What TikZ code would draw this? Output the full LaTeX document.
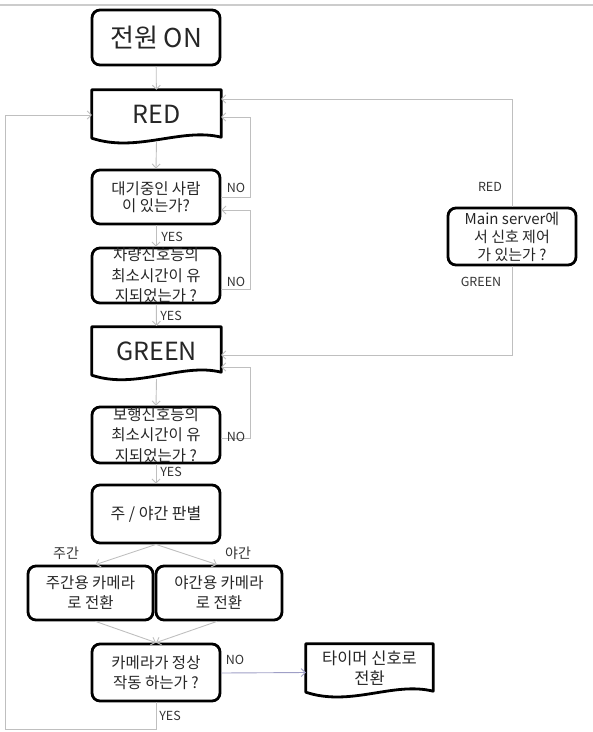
\documentclass[tikz,border=0pt]{standalone}
\usepackage{fontspec}
\setmainfont{Noto Sans CJK KR}
\usetikzlibrary{arrows.meta}
\begin{document}
\begin{tikzpicture}[x=1pt,y=-1pt,
  box/.style={draw=black, line width=2.8pt, rounded corners=8pt, fill=white, align=center, inner sep=0pt, text=black!85},
  docnode/.style={draw=none, align=center, inner sep=0pt, text=black!85},
  docline/.style={draw=black, line width=2.8pt, line join=round},
  conn/.style={draw=gray!50, line width=0.9pt},
  arr/.style={conn, -{Straight Barb[length=4pt,width=8pt,line width=0.9pt]}},
  lbl/.style={font=\fontsize{12.5}{14}\selectfont, text=black!80, inner sep=0pt},
  txt/.style={font=\fontsize{15}{19}\selectfont},
  big/.style={font=\fontsize{25}{28}\selectfont}
]
\useasboundingbox (0,0) rectangle (593,732);
\draw[gray!40, line width=1.2pt] (0,5) -- (593,5);

% nodes
\node[box, big, font=\fontsize{26}{28}\selectfont, minimum width=128pt, minimum height=55pt] (on) at (156,37.5) {전원 ON};
\node[docnode, big, minimum width=129pt, minimum height=48pt] (red) at (156.5,114) {RED};
\node[box, txt, font=\fontsize{15.5}{17}\selectfont, minimum width=128pt, minimum height=54pt] (wait) at (156,197) {대기중인 사람\\이 있는가?};
\node[box, txt, font=\fontsize{15.5}{20.5}\selectfont, minimum width=128pt, minimum height=55pt] (car) at (156,275.5) {차량신호등의\\최소시간이 유\\지되었는가 ?};
\node[docnode, big, minimum width=129pt, minimum height=48pt] (green) at (156.5,351) {GREEN};
\node[box, txt, font=\fontsize{15.5}{20.5}\selectfont, minimum width=128pt, minimum height=56pt] (walk) at (156,435) {보행신호등의\\최소시간이 유\\지되었는가 ?};
\node[box, font=\fontsize{16}{19}\selectfont, minimum width=128pt, minimum height=58pt] (daynight) at (156,514) {주 / 야간 판별};
\node[box, txt, font=\fontsize{15.5}{20}\selectfont, minimum width=125pt, minimum height=54pt] (daycam) at (90.5,593) {주간용 카메라\\로 전환};
\node[box, txt, font=\fontsize{15.5}{20}\selectfont, minimum width=126pt, minimum height=54pt] (nightcam) at (219,593) {야간용 카메라\\로 전환};
\node[box, txt, font=\fontsize{15.5}{20}\selectfont, minimum width=128pt, minimum height=57pt] (cam) at (156,672.5) {카메라가 정상\\작동 하는가 ?};
\node[docnode, font=\fontsize{16.5}{20}\selectfont, minimum width=127pt, minimum height=48pt] (timer) at (369.5,668) {타이머 신호로\\전환};
\node[box, font=\fontsize{15}{18}\selectfont, minimum width=128pt, minimum height=57pt] (server) at (512,236.5) {Main server에\\서 신호 제어\\가 있는가 ?};

% document outlines
\draw[docline] (red.north west) -- (red.north east) -- ([yshift=1pt]red.south east)
  .. controls +(-40,-10) and +(45,15) .. (red.south west) -- cycle;
\draw[docline] (green.north west) -- (green.north east) -- ([yshift=3pt]green.south east)
  .. controls +(-40,-10) and +(45,15) .. (green.south west) -- cycle;
\draw[docline] (timer.north west) -- (timer.north east) -- ([yshift=1pt]timer.south east)
  .. controls +(-40,-10) and +(45,15) .. (timer.south west) -- cycle;

% helper coordinates
\coordinate (xr) at (250,0);
\coordinate (bl) at (5,729);

% main flow
\draw[arr] (on) -- (red);
\draw[arr] ([yshift=-3pt]red.south) -- (wait.north);
\draw[arr] (wait) -- (car);
\draw[arr] (car) -- ([yshift=1pt]green.north);
\draw[arr] ([yshift=-4pt]green.south) -- (walk.north);
\draw[arr] (walk) -- (daynight);
\draw[arr] (daynight.south) -- ([xshift=5pt]daycam.north);
\draw[arr] (daynight.south) -- ([xshift=-2pt]nightcam.north);
\draw[arr] ([xshift=5pt]daycam.south) -- (cam.north);
\draw[arr] ([xshift=-2pt]nightcam.south) -- (cam.north);
\draw[arr, draw=blue!25!gray!60] ([yshift=-0.5pt]cam.east) -- ([yshift=-4.5pt]timer.west);
\draw[arr] (cam.south) |- (bl) |- ([yshift=-1pt]red.west);

% NO loops
\draw[arr] (wait.east) -- (wait.east -| xr) |- ([yshift=-3pt]red.east);
\draw[arr] ([yshift=-14pt]car.east) -- ([yshift=-14pt]car.east -| xr) |- ([yshift=-13pt]wait.east);
\draw[arr] ([yshift=-3pt]walk.east) -- ([yshift=-3pt]walk.east -| xr) |- ([yshift=-16pt]green.east);

% server loop
\draw[arr] (server.north) |- ([yshift=15pt]red.east);
\draw[arr] (server.south) |- ([yshift=-4pt]green.east);

% labels
\node[lbl] (lno1) at (236,188) {NO};
\node[lbl] (lno2) at (236,282) {NO};
\node[lbl] (lno3) at (236,437) {NO};
\node[lbl] (lno4) at (235,660) {NO};
\node[lbl] (lyes1) at (172,237) {YES};
\node[lbl] (lyes2) at (171,316) {YES};
\node[lbl] (lyes3) at (171,472) {YES};
\node[lbl] (lyes4) at (170,716) {YES};
\node[lbl] (lred) at (490,187) {RED};
\node[lbl] (lgreen) at (481,282) {GREEN};
\node[lbl, font=\fontsize{14}{16}\selectfont] (lday) at (66,553) {주간};
\node[lbl, font=\fontsize{14}{16}\selectfont] (lnight) at (238,553) {야간};
\end{tikzpicture}
\end{document}
